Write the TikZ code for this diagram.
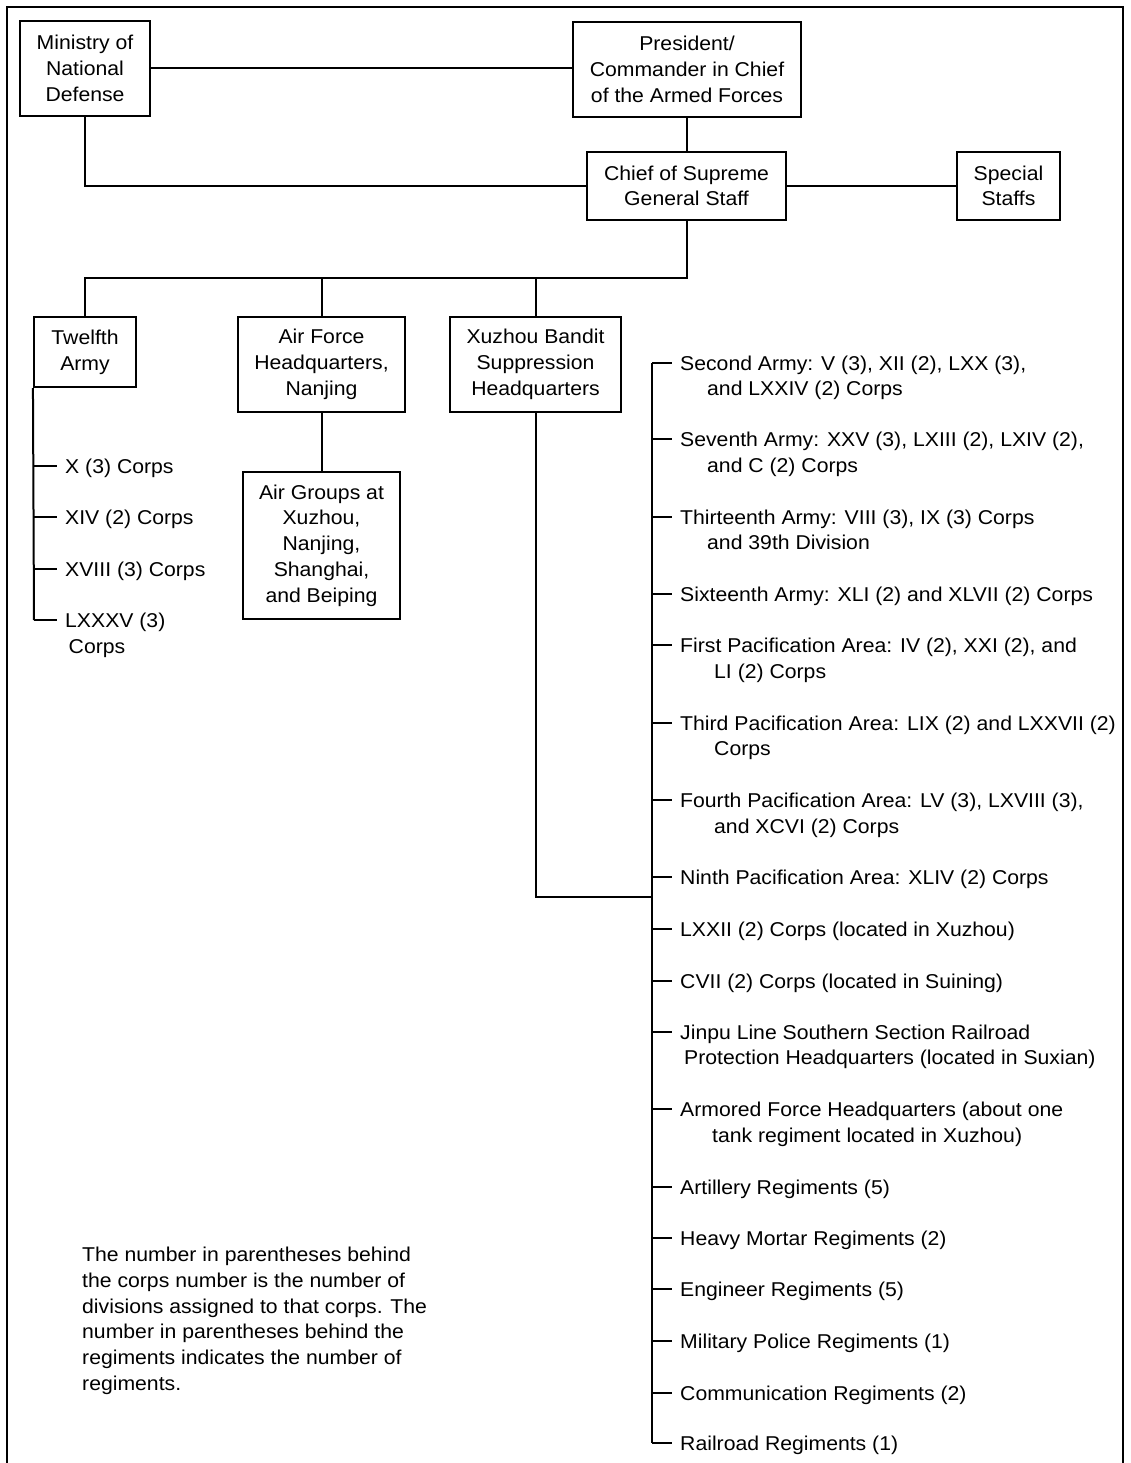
\documentclass[tikz,border=0pt]{standalone}
\usepackage{fontspec}
\setmainfont{Liberation Sans}[FakeStretch=1.06]
\usetikzlibrary{calc}
\begin{document}
\begin{tikzpicture}[x=1pt,y=-1pt,
  every node/.style={font=\fontsize{20}{25.7}\selectfont, inner sep=0pt},
  box/.style={draw, line width=2.1pt, align=center},
  conn/.style={line width=2pt},
  tick/.style={line width=2pt, shorten >=8pt},
  lbl/.style={anchor=base west}]
\useasboundingbox (0,0) rectangle (1130,1463);
\fill[white] (0,0) rectangle (1130,1463);
\draw[line width=2.8pt] (7,1463) -- (7,7) -- (1123,7) -- (1123,1463);

% boxes
\node[box, minimum width=130pt, minimum height=95pt] (mnd) at (85,68.5) {Ministry of\\National\\Defense};
\node[box, minimum width=228pt, minimum height=95pt] (pres) at (687,69.5) {President/\\Commander in Chief\\of the Armed Forces};
\node[box, minimum width=199pt, minimum height=68pt] (chief) at (686.5,186) {Chief of Supreme\\General Staff};
\node[box, minimum width=103pt, minimum height=68pt] (spec) at (1008.5,186) {Special\\Staffs};
\node[box, minimum width=102pt, minimum height=70pt] (tw) at (85,352) {Twelfth\\Army};
\node[box, minimum width=167pt, minimum height=95pt] (afhq) at (321.5,364.5) {Air Force\\Headquarters,\\Nanjing};
\node[box, minimum width=171pt, minimum height=95pt] (xuz) at (535.5,364.5) {Xuzhou Bandit\\Suppression\\Headquarters};
\node[box, minimum width=157pt, minimum height=147pt] (airg) at (321.5,545.5) {Air Groups at\\Xuzhou,\\Nanjing,\\Shanghai,\\and Beiping};

% top connectors
\draw[conn] (mnd.east) -- (mnd.east -| pres.west);
\draw[conn] (pres.south) -- (pres.south |- chief.north);
\draw[conn] (mnd.south) |- (chief.west);
\draw[conn] (chief.east) -- (spec.west);
\coordinate (bus) at (0,278);
\draw[conn] (chief.south) -- (chief.south |- bus) -- (tw.north |- bus) -- (tw.north);
\draw[conn] (afhq.north |- bus) -- (afhq.north);
\draw[conn] (xuz.north |- bus) -- (xuz.north);
\draw[conn] (afhq.south) -- (airg.north);

% Twelfth Army list
\newcommand\litem[3]{%
  \coordinate (#1t) at (34,#2);
  \node[lbl] (#1) at (65,#2+7) {#3};
  \draw[tick] (#1t) -- (#1t -| #1.west);}
\litem{l1}{466}{X (3) Corps}
\litem{l2}{517}{XIV (2) Corps}
\litem{l3}{569}{XVIII (3) Corps}
\litem{l4}{620}{LXXXV (3)}
\node[lbl] (l4b) at (68.5,653) {Corps};
\draw[conn] (tw.south west) -- (l4t);

% Xuzhou list
\newcommand\ritem[3]{%
  \coordinate (#1t) at (652,#2);
  \node[lbl] (#1) at (680,#2+7) {#3};
  \draw[tick] (#1t) -- (#1t -| #1.west);}
\newcommand\rmore[4]{%
  \node[lbl] (#1b) at (#3,#2+7) {#4};}
\ritem{r1}{363}{Second Army: V (3), XII (2), LXX (3),}
\rmore{r1}{388}{707}{and LXXIV (2) Corps}
\ritem{r2}{439}{Seventh Army: XXV (3), LXIII (2), LXIV (2),}
\rmore{r2}{465}{707}{and C (2) Corps}
\ritem{r3}{517}{Thirteenth Army: VIII (3), IX (3) Corps}
\rmore{r3}{542}{707}{and 39th Division}
\ritem{r4}{594}{Sixteenth Army: XLI (2) and XLVII (2) Corps}
\ritem{r5}{645}{First Pacification Area: IV (2), XXI (2), and}
\rmore{r5}{671}{714}{LI (2) Corps}
\ritem{r6}{723}{Third Pacification Area: LIX (2) and LXXVII (2)}
\rmore{r6}{748}{714}{Corps}
\ritem{r7}{800}{Fourth Pacification Area: LV (3), LXVIII (3),}
\rmore{r7}{826}{714}{and XCVI (2) Corps}
\ritem{r8}{877}{Ninth Pacification Area: XLIV (2) Corps}
\ritem{r9}{929}{LXXII (2) Corps (located in Xuzhou)}
\ritem{r10}{981}{CVII (2) Corps (located in Suining)}
\ritem{r11}{1032}{Jinpu Line Southern Section Railroad}
\rmore{r11}{1057}{684}{Protection Headquarters (located in Suxian)}
\ritem{r12}{1109}{Armored Force Headquarters (about one}
\rmore{r12}{1135}{712}{tank regiment located in Xuzhou)}
\ritem{r13}{1187}{Artillery Regiments (5)}
\ritem{r14}{1238}{Heavy Mortar Regiments (2)}
\ritem{r15}{1289}{Engineer Regiments (5)}
\ritem{r16}{1341}{Military Police Regiments (1)}
\ritem{r17}{1393}{Communication Regiments (2)}
\ritem{r18}{1443}{Railroad Regiments (1)}
\draw[conn] (r1t) -- (r18t);
\coordinate (xj) at (652,897);
\draw[conn] (xuz.south) |- (xj);

% note
\node[anchor=north west, align=left] (note) at (82,1247) {The number in parentheses behind\\the corps number is the number of\\divisions assigned to that corps. The\\number in parentheses behind the\\regiments indicates the number of\\regiments.};
\end{tikzpicture}
\end{document}
